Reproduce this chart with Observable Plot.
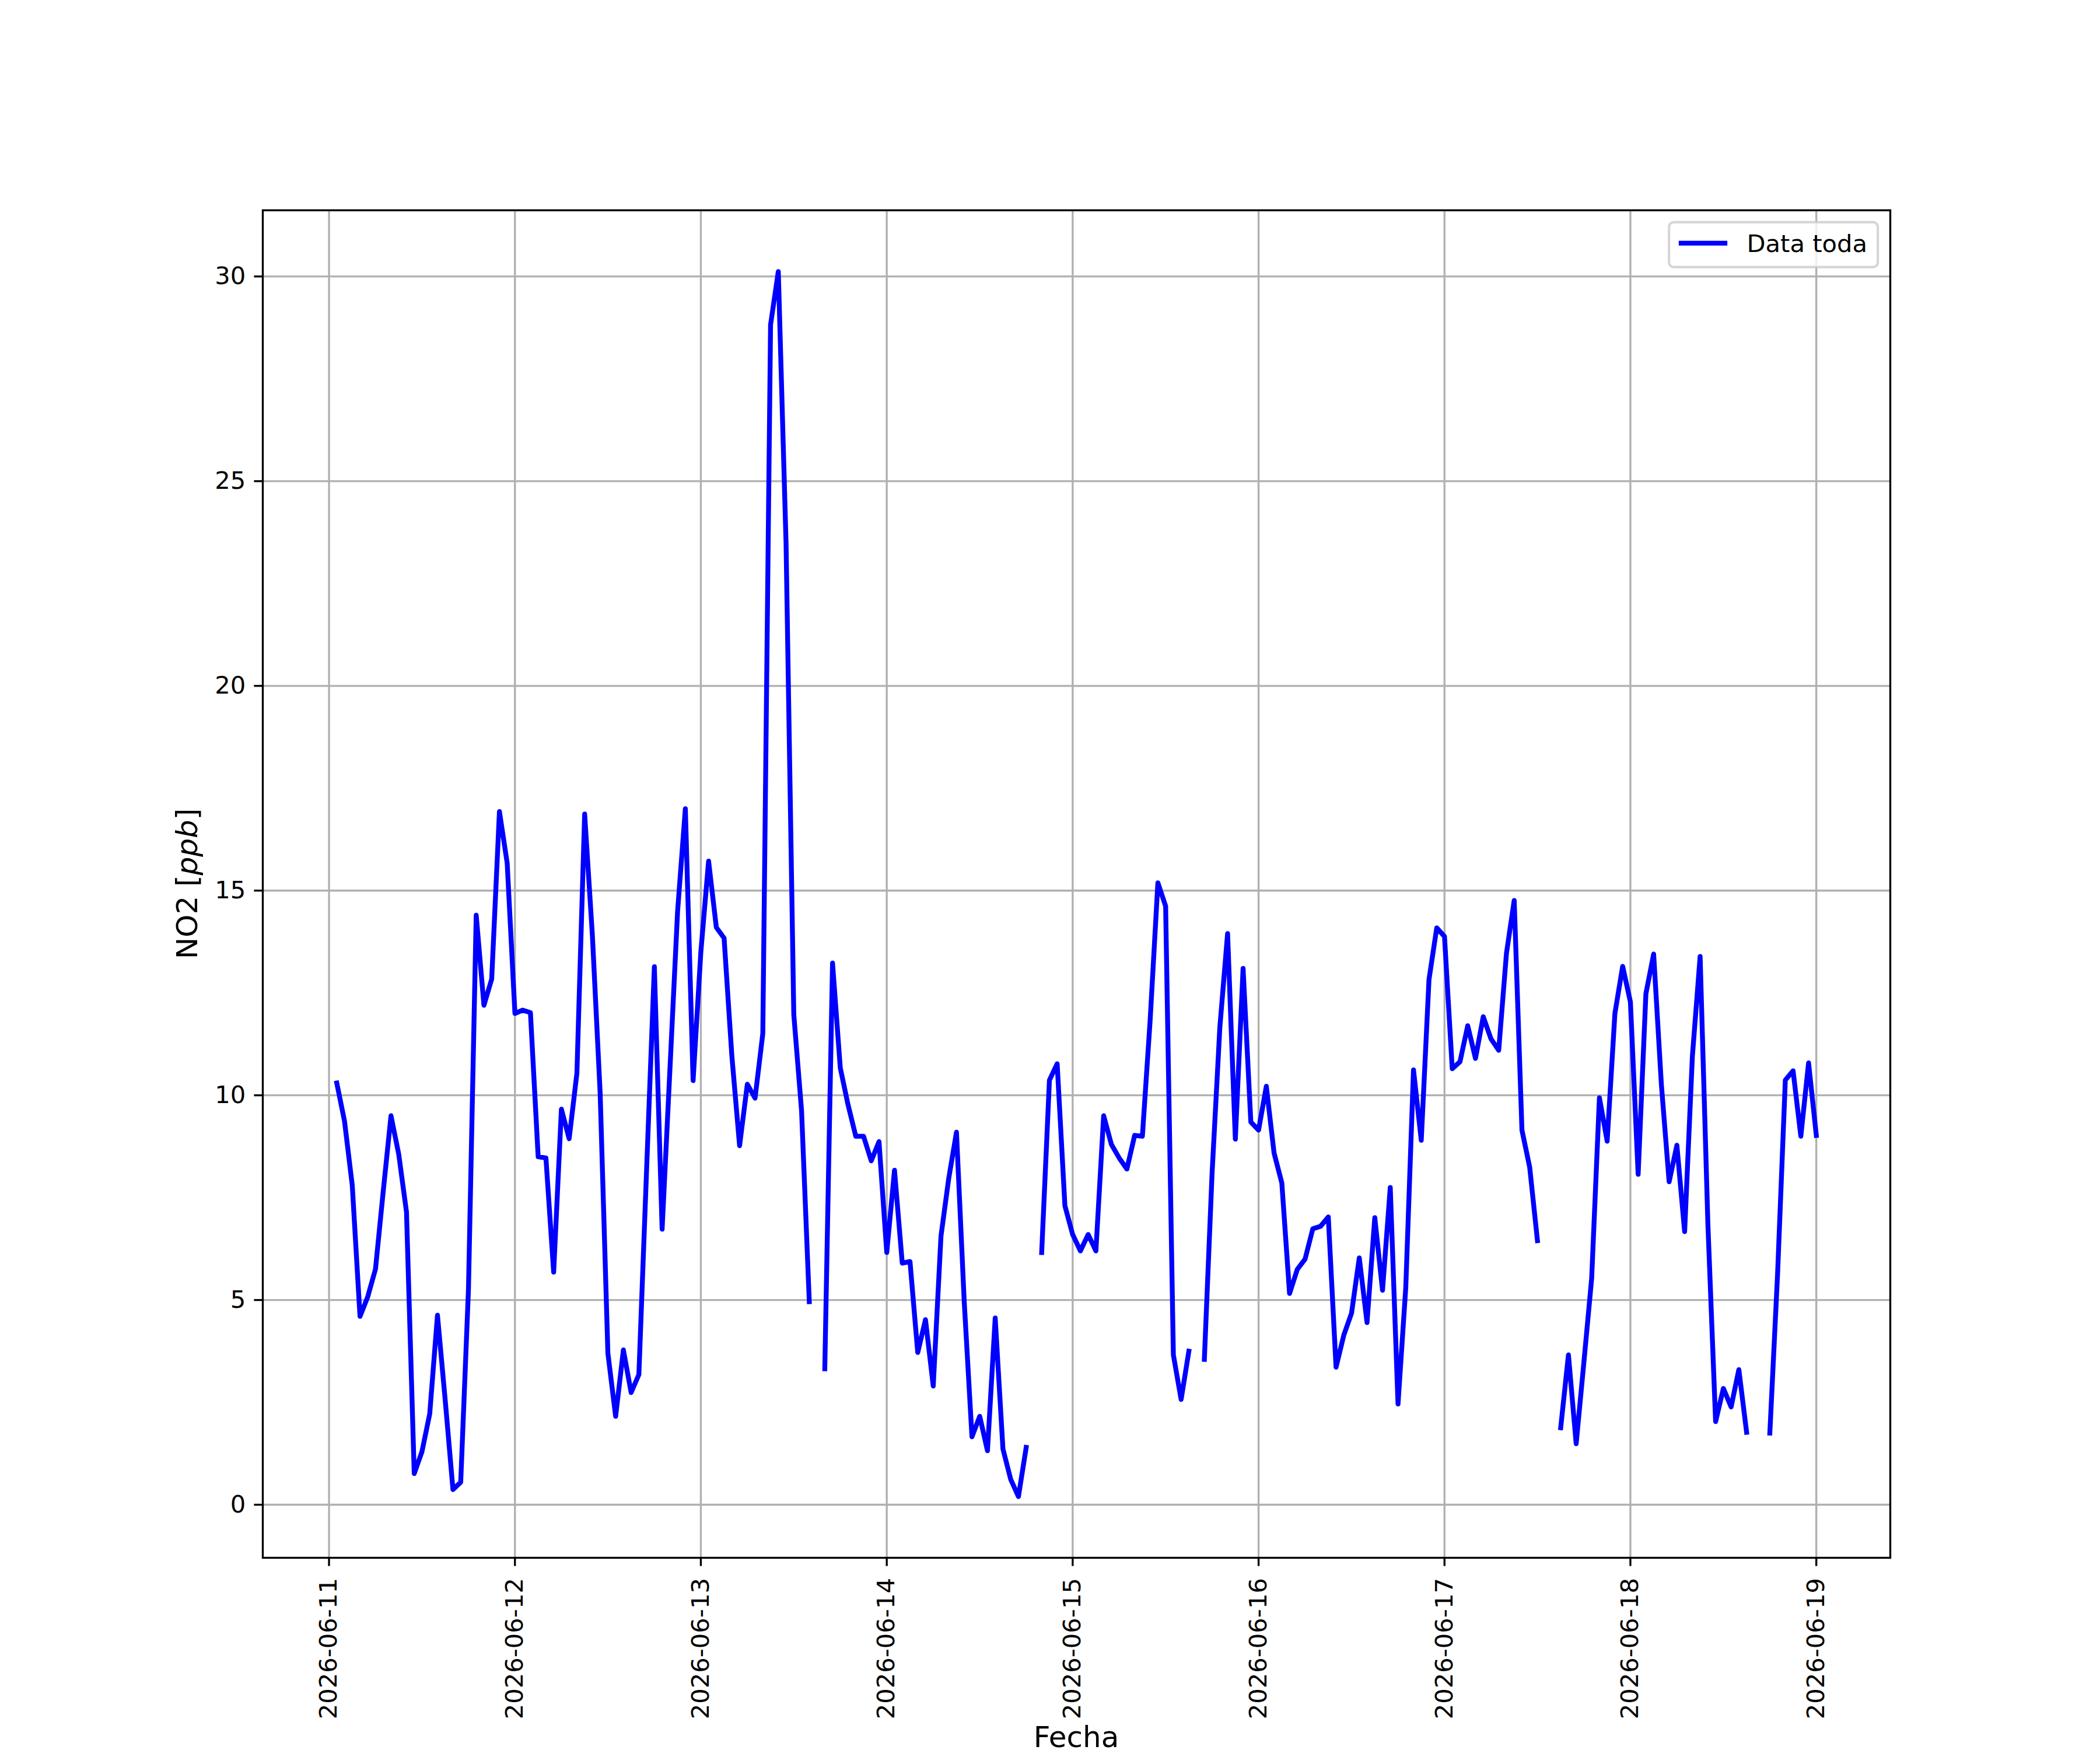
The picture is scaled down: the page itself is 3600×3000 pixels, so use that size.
<!DOCTYPE html>
<html>
<head>
<meta charset="utf-8">
<script src="https://cdn.jsdelivr.net/npm/d3@7"></script>
<script src="https://cdn.jsdelivr.net/npm/@observablehq/plot@0.6"></script>
<style>
  html, body { margin: 0; padding: 0; background: #ffffff; }
  #chart svg { display: block; }
</style>
</head>
<body>
<div id="chart"></div>
<script>
// ---------- data (hourly NO2 readings, ppb; null = missing) ----------
const seriesName = "Data toda";
const xLabel = "Fecha";
const firstHour = "2026-06-11T01:00:00Z";   // timestamp of the first reading

const no2_0611 = [10.3, 9.37, 7.8, 4.6, 5.08, 5.76, 7.66, 9.5, 8.56, 7.15, 0.76, 1.3,
                  2.22, 4.63, 2.55, 0.37, 0.55, 5.26, 14.4, 12.2, 12.84, 16.93, 15.67]; // 01h-23h
const no2_0612 = [12.0, 12.08, 12.02, 8.5, 8.47, 5.68, 9.66, 8.94, 10.54, 16.87, 13.9, 10.06,
                  3.7, 2.16, 3.78, 2.74, 3.18, 8.2, 13.14, 6.73, 10.6, 14.5, 17.0, 10.36];
const no2_0613 = [13.5, 15.72, 14.1, 13.84, 10.97, 8.77, 10.27, 9.93, 11.51, 28.82, 30.12, 23.48,
                  11.97, 9.63, 4.96, null, 3.32, 13.23, 10.67, 9.77, 9.0, 9.0, 8.4, 8.87];
const no2_0614 = [6.16, 8.17, 5.9, 5.94, 3.72, 4.52, 2.9, 6.56, 7.97, 9.1, 4.96, 1.66,
                  2.16, 1.32, 4.56, 1.36, 0.62, 0.2, 1.4, null, 6.16, 10.37, 10.77, 7.3];
const no2_0615 = [6.6, 6.2, 6.6, 6.2, 9.5, 8.8, 8.47, 8.2, 9.02, 9.0, 11.83, 15.19,
                  14.62, 3.66, 2.57, 3.75, null, 3.55, 8.11, 11.66, 13.95, 8.93, 13.1, 9.35];
const no2_0616 = [9.15, 10.22, 8.59, 7.86, 5.16, 5.75, 6.0, 6.74, 6.8, 7.03, 3.36, 4.14,
                  4.68, 6.03, 4.45, 7.01, 5.24, 7.75, 2.46, 5.3, 10.62, 8.9, 12.83, 14.09];
const no2_0617 = [13.88, 10.65, 10.82, 11.7, 10.9, 11.92, 11.38, 11.1, 13.47, 14.76, 9.15, 8.24,
                  6.45, null, null, 1.88, 3.66, 1.49, 3.49, 5.53, 9.94, 8.88, 12.0, 13.15];
const no2_0618 = [12.28, 8.07, 12.48, 13.45, 10.26, 7.89, 8.78, 6.67, 10.95, 13.39, 6.87, 2.03,
                  2.84, 2.39, 3.3, 1.77, null, null, 1.75, 5.64, 10.37, 10.6, 9.0, 10.79];
const no2_0619 = [9.02]; // 00h

const dayTickLabels = ["2026-06-11", "2026-06-12", "2026-06-13", "2026-06-14", "2026-06-15",
                       "2026-06-16", "2026-06-17", "2026-06-18", "2026-06-19"];
const yTicks = [0, 5, 10, 15, 20, 25, 30];

// ---------- build rows ----------
const allValues = [].concat(no2_0611, no2_0612, no2_0613, no2_0614, no2_0615,
                            no2_0616, no2_0617, no2_0618, no2_0619);
const t0 = new Date(firstHour).getTime();
const rows = allValues.map((v, i) => ({
  time: new Date(t0 + i * 3600e3),
  value: v == null ? NaN : v
}));
const tickDates = dayTickLabels.map(s => new Date(s + "T00:00:00Z"));

// ---------- layout (matplotlib 12x10 in @ 300 dpi) ----------
const W = 3600, H = 3000;
const ML = 450, MR = 360, MT = 360, MB = 330;
const PT = 300 / 72;            // px per point
const fsTick = 10 * PT, fsLabel = 12 * PT;
const LW = 2 * PT;              // data line width

// matplotlib-style 5% margins
const tMin = rows[0].time.getTime(), tMax = rows[rows.length - 1].time.getTime();
const tPad = (tMax - tMin) * 0.05;
const defined = allValues.filter(v => v != null);
const vMin = d3.min(defined), vMax = d3.max(defined);
const vPad = (vMax - vMin) * 0.05;

const plot = Plot.plot({
  width: W, height: H,
  marginLeft: ML, marginRight: MR, marginTop: MT, marginBottom: MB,
  style: { fontFamily: "DejaVu Sans", fontSize: fsTick + "px", background: "white", color: "black", overflow: "visible" },
  x: { type: "utc", domain: [new Date(tMin - tPad), new Date(tMax + tPad)] },
  y: { domain: [vMin - vPad, vMax + vPad] },
  marks: [
    Plot.gridX(tickDates, { stroke: "#b0b0b0", strokeOpacity: 1, strokeWidth: 0.8 * PT }),
    Plot.gridY(yTicks, { stroke: "#b0b0b0", strokeOpacity: 1, strokeWidth: 0.8 * PT }),
    Plot.line(rows, {
      x: "time", y: "value", stroke: "blue", strokeWidth: LW,
      strokeLinecap: "square", strokeLinejoin: "round"
    }),
    Plot.frame({ stroke: "black", strokeWidth: 0.8 * PT }),
    Plot.axisX(tickDates, {
      anchor: "bottom", tickSize: 3.5 * PT, tickPadding: 20, tickRotate: -90,
      tickFormat: d3.utcFormat("%Y-%m-%d"), fontSize: fsTick, strokeWidth: 0.8 * PT,
      stroke: "black", fill: "black", label: null
    }),
    Plot.axisY(yTicks, {
      anchor: "left", tickSize: 3.5 * PT, tickPadding: 3.5 * PT, fontSize: fsTick,
      strokeWidth: 0.8 * PT, stroke: "black", fill: "black", label: null,
      tickFormat: d => String(d)
    })
  ]
});

const svg = d3.select(plot);
const cx = ML + (W - ML - MR) / 2, cy = MT + (H - MT - MB) / 2;

// x label
svg.append("text")
  .attr("x", cx).attr("y", 2995)
  .attr("text-anchor", "middle")
  .attr("font-family", "DejaVu Sans").attr("font-size", fsLabel).attr("fill", "black")
  .text(xLabel);

// y label with italic unit
const yl = svg.append("text")
  .attr("transform", `translate(338,${cy}) rotate(-90)`)
  .attr("text-anchor", "middle")
  .attr("font-family", "DejaVu Sans").attr("font-size", fsLabel).attr("fill", "black");
yl.append("tspan").text("NO2 [");
yl.append("tspan").attr("font-style", "italic").text("ppb");
yl.append("tspan").text("]");

// legend (upper right)
const lg = svg.append("g");
const lgRight = W - MR - 0.5 * fsTick, lgTop = MT + 0.5 * fsTick;
const lgW = 358, lgH = 77;
const lgLeft = lgRight - lgW;
lg.append("rect")
  .attr("x", lgLeft).attr("y", lgTop).attr("width", lgW).attr("height", lgH)
  .attr("rx", 8).attr("ry", 8)
  .attr("fill", "white").attr("fill-opacity", 0.8)
  .attr("stroke", "#cccccc").attr("stroke-opacity", 0.8).attr("stroke-width", 1 * PT);
lg.append("line")
  .attr("x1", lgLeft + 0.4 * fsTick + LW / 2).attr("x2", lgLeft + 0.4 * fsTick + 2 * fsTick - LW / 2)
  .attr("y1", lgTop + 36).attr("y2", lgTop + 36)
  .attr("stroke", "blue").attr("stroke-width", LW).attr("stroke-linecap", "square");
lg.append("text")
  .attr("x", lgLeft + 0.4 * fsTick + 2 * fsTick + 0.8 * fsTick).attr("y", lgTop + 51)
  .attr("text-anchor", "start")
  .attr("font-family", "DejaVu Sans").attr("font-size", fsTick).attr("fill", "black")
  .text(seriesName);

document.getElementById("chart").appendChild(plot);
</script>
</body>
</html>
